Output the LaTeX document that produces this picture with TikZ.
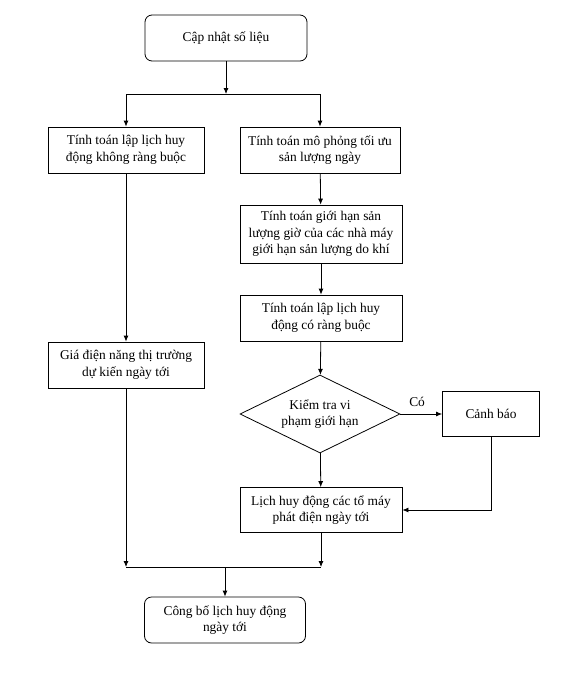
\documentclass[tikz,border=0pt]{standalone}
\usepackage{fontspec}
\setmainfont{Liberation Serif}
\usetikzlibrary{arrows.meta,positioning,shapes.geometric,calc}

\begin{document}
\begin{tikzpicture}[x=1pt,y=-1pt,
font=\fontsize{13.4}{16.5}\selectfont,
term/.style={draw,line width=0.8pt,rounded corners=7pt,align=center,minimum width=162pt,minimum height=46pt},
proc/.style={draw,line width=0.8pt,align=center,minimum width=158pt,minimum height=46pt},
decide/.style={draw,line width=0.8pt,diamond,aspect=2,inner sep=0pt,align=center,minimum width=160pt,minimum height=78pt},
arr/.style={-{Latex[length=6pt,width=5pt]},line width=0.8pt},
link/.style={line width=0.8pt}]
\useasboundingbox (0,0) rectangle (576,683);
\node[term](update) at (226,38){Cập nhật số liệu};
\coordinate (split) at (226,94);
\node[proc,minimum width=156pt](free) at (126,150){Tính toán lập lịch huy\\động không ràng buộc};
\node[proc,minimum width=160pt](optim) at (320,150){Tính toán mô phỏng tối ưu\\sản lượng ngày};
\node[proc,minimum width=162pt,minimum height=58pt](limit) at (321,234){Tính toán giới hạn sản\\lượng giờ của các nhà máy\\giới hạn sản lượng do khí};
\node[proc,minimum width=162pt](bound) at (321,318){Tính toán lập lịch huy\\động có ràng buộc};
\node[proc,minimum width=156pt](price) at (126,365){Giá điện năng thị trường\\dự kiến ngày tới};
\node[decide](check) at (320,414){Kiểm tra vi\\phạm giới hạn};
\node[proc,minimum width=97pt,minimum height=45pt](warn) at (491,414){Cảnh báo};
\node[proc,minimum width=162pt,minimum height=45pt](plan) at (321,510){Lịch huy động các tổ máy\\phát điện ngày tới};
\coordinate (join) at (225,567);
\node[term,minimum width=161pt](publish) at (225,620){Công bố lịch huy động\\ngày tới};
\draw[arr](update.south)--(split);
\draw[link](free.north |- split)--(optim.north |- split);
\draw[arr](free.north |- split)--(free.north);
\draw[arr](optim.north |- split)--(optim.north);
\draw[arr](optim)--(limit);
\draw[arr](limit)--(bound);
\draw[arr](bound)--(check);
\draw[arr](free)--(price);
\draw[arr](check.east)--node[above=4pt,pos=0.4]{Có}(warn.west);
\draw[arr](check)--(plan);
\draw[arr](warn.south)|-(plan.east);
\draw[arr](price.south)--(price.south |- join);
\draw[arr](plan.south)--(plan.south |- join);
\draw[link](price.south |- join)--(plan.south |- join);
\draw[arr](join)--(publish.north);
\end{tikzpicture}
\end{document}
